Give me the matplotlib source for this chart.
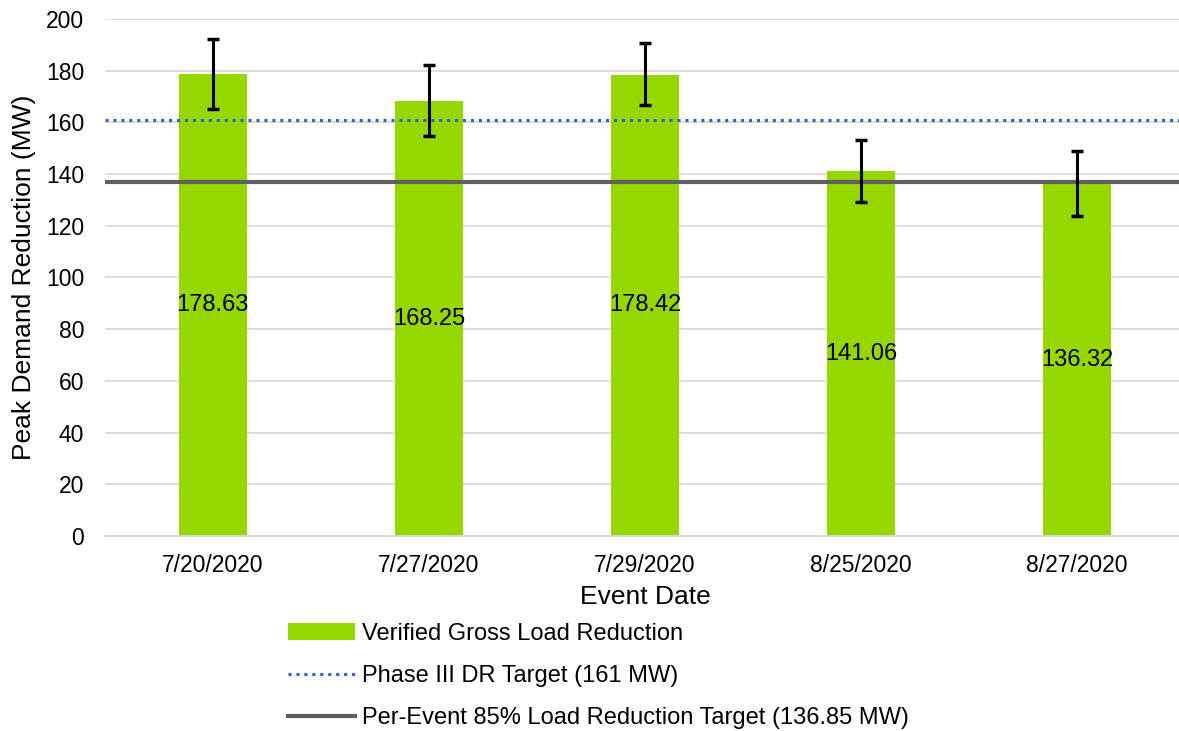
import numpy as np
import matplotlib
matplotlib.use('Agg')
import matplotlib.pyplot as plt

plt.rcParams['font.family'] = ['Liberation Sans', 'DejaVu Sans']

# event data
dates = ['7/20/2020', '7/27/2020', '7/29/2020', '8/25/2020', '8/27/2020']
reduction = [178.63, 168.25, 178.42, 141.06, 136.32]
err_low = [13.3, 13.5, 11.8, 11.9, 12.4]
err_high = [13.8, 14.0, 12.2, 12.0, 12.6]

phase3_target = 161
per_event_target = 136.85

fig = plt.figure(figsize=(11.79, 7.31), dpi=100)
ax = fig.add_axes([0.089, 0.2668, 0.916, 0.7072])

x = np.arange(len(dates))
bars = ax.bar(x, reduction, width=0.315, color='#97d700', zorder=2,
              label='Verified Gross Load Reduction')
ax.errorbar(x, reduction, yerr=[err_low, err_high], fmt='none', ecolor='black',
            elinewidth=2.2, capsize=4.5, capthick=2.5, zorder=4)

for xi, v in zip(x, reduction):
    ax.text(xi, v/2, f'{v:.2f}', ha='center', va='center', fontsize=17, zorder=5)

ax.axhline(phase3_target, color='#2e5fd8', ls=(0, (1, 1.6)), lw=2.2, zorder=3,
           label='Phase III DR Target (161 MW)')
ax.axhline(per_event_target, color='#606060', lw=3, zorder=3,
           label='Per-Event 85% Load Reduction Target (136.85 MW)')

ax.set_xlim(-0.5, 4.5)
ax.set_ylim(0, 200)
ax.set_yticks(np.arange(0, 201, 20))
ax.set_xticks(x)
ax.set_xticklabels(dates)
ax.tick_params(axis='both', length=0, labelsize=16.5)
ax.tick_params(axis='y', pad=15)
ax.tick_params(axis='x', pad=13)
ax.grid(axis='y', color='#d9d9d9', lw=1.3, zorder=0)
for s in ['top', 'right', 'left']:
    ax.spines[s].set_visible(False)
ax.spines['bottom'].set_color('#d9d9d9')
ax.spines['bottom'].set_linewidth(1.3)

ax.set_ylabel('Peak Demand Reduction (MW)', fontsize=19, labelpad=7)
ax.set_xlabel('Event Date', fontsize=19, labelpad=6)

handles, labels = ax.get_legend_handles_labels()
order = [2, 0, 1]
fig.legend([handles[i] for i in order], [labels[i] for i in order],
           loc='upper left', bbox_to_anchor=(0.244, 0.148), frameon=False,
           fontsize=17, handlelength=2.85, handletextpad=0.3, labelspacing=0.85,
           borderaxespad=0, borderpad=0)

plt.savefig('out.png', dpi=100)
